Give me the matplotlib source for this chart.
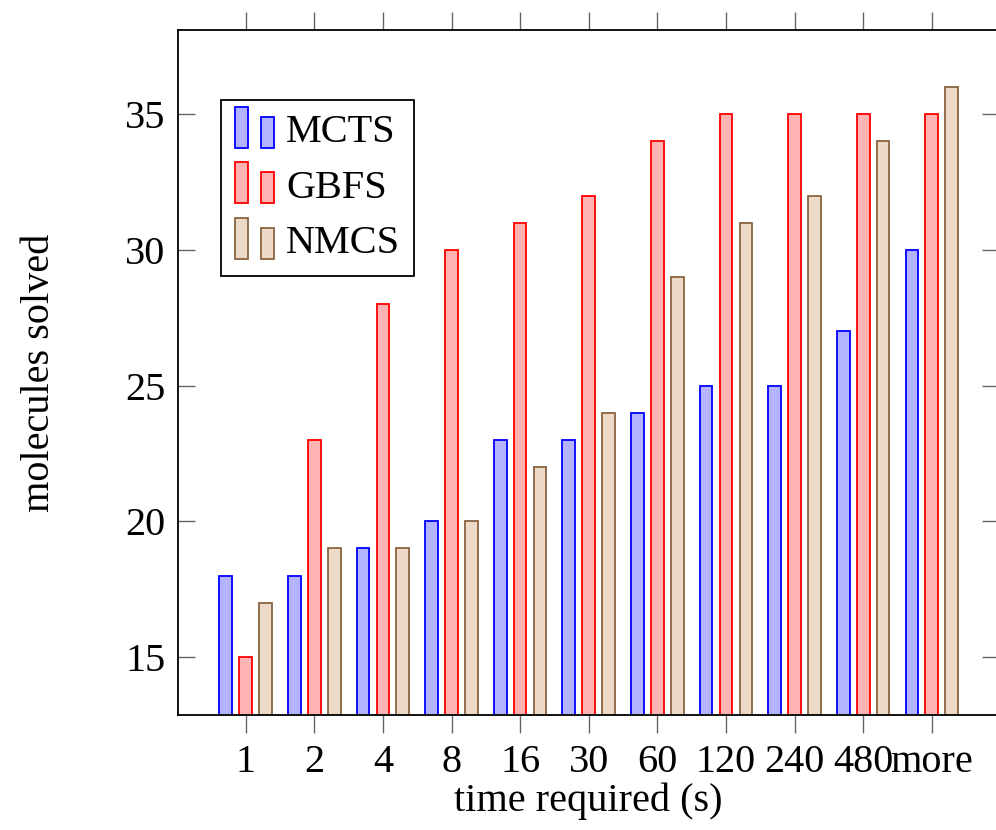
import numpy as np
import matplotlib
matplotlib.use("Agg")
import matplotlib.pyplot as plt
from matplotlib.patches import Rectangle
from matplotlib.legend_handler import HandlerBase

# data
times = ["1", "2", "4", "8", "16", "30", "60", "120", "240", "480", "more"]
mcts = [18, 18, 19, 20, 23, 23, 24, 25, 25, 27, 30]
gbfs = [15, 23, 28, 30, 31, 32, 34, 35, 35, 35, 35]
nmcs = [17, 19, 19, 20, 22, 24, 29, 31, 32, 34, 36]
series = ["MCTS", "GBFS", "NMCS"]

edge = {"MCTS": "#0000ff", "GBFS": "#ff0000", "NMCS": "#8a6440"}
fill = {"MCTS": "#b3b3ff", "GBFS": "#ffb3b3", "NMCS": "#ecd9c6"}

plt.rcParams['font.family'] = ['Liberation Serif', 'DejaVu Serif']
plt.rcParams['font.size'] = 29


class TwoBars(HandlerBase):
    # pgfplots style ybar legend icon: two small bars
    def create_artists(self, legend, orig, xd, yd, w, h, fontsize, trans):
        fc = orig.get_facecolor()
        ec = orig.get_edgecolor()
        r1 = Rectangle((xd, yd - 0.2 * h), 0.33 * w, 1.45 * h, fc=fc, ec=ec, lw=1.3, transform=trans)
        r2 = Rectangle((xd + 0.67 * w, yd - 0.2 * h), 0.33 * w, 1.1 * h, fc=fc, ec=ec, lw=1.3, transform=trans)
        return [r1, r2]


fig = plt.figure(figsize=(9.96, 8.3), dpi=100)
ax = fig.add_axes([178 / 996, 115 / 830, 821 / 996, 685 / 830])

x = np.arange(len(times))
offs = [-0.29, 0.0, 0.29]
width = 0.185
handles = []
for name, vals, o in zip(series, [mcts, gbfs, nmcs], offs):
    b = ax.bar(x + o, vals, width, color=fill[name], edgecolor=edge[name], linewidth=1.3, label=name)
    handles.append(b.patches[0])

ax.set_xlim(-0.987, 10.98)
ax.set_ylim(12.86, 38.1)
ax.set_xticks(x)
ax.set_xticklabels(times)
ax.set_yticks([15, 20, 25, 30, 35])

for s in ax.spines.values():
    s.set_linewidth(1.3)
ax.tick_params(axis='x', which='both', direction='out', length=13, width=1.0, color='#666666',
               top=True, bottom=True, pad=8)
ax.tick_params(axis='y', which='both', direction='in', length=12, width=1.0, color='#666666',
               left=True, right=True, pad=9)

ax.set_xlabel("time required (s)", labelpad=1)
ax.set_ylabel("molecules solved", labelpad=48)

leg = ax.legend(handles, series, handler_map={h: TwoBars() for h in handles},
                loc='upper left', bbox_to_anchor=(43 / 821, 1 - 70 / 685), borderaxespad=0,
                fancybox=False, framealpha=1, edgecolor='black', borderpad=0.35,
                handlelength=0.97, handletextpad=0.3, labelspacing=0.45, fontsize=29)
leg.get_frame().set_linewidth(1.3)

fig.savefig("out.png", dpi=100)
